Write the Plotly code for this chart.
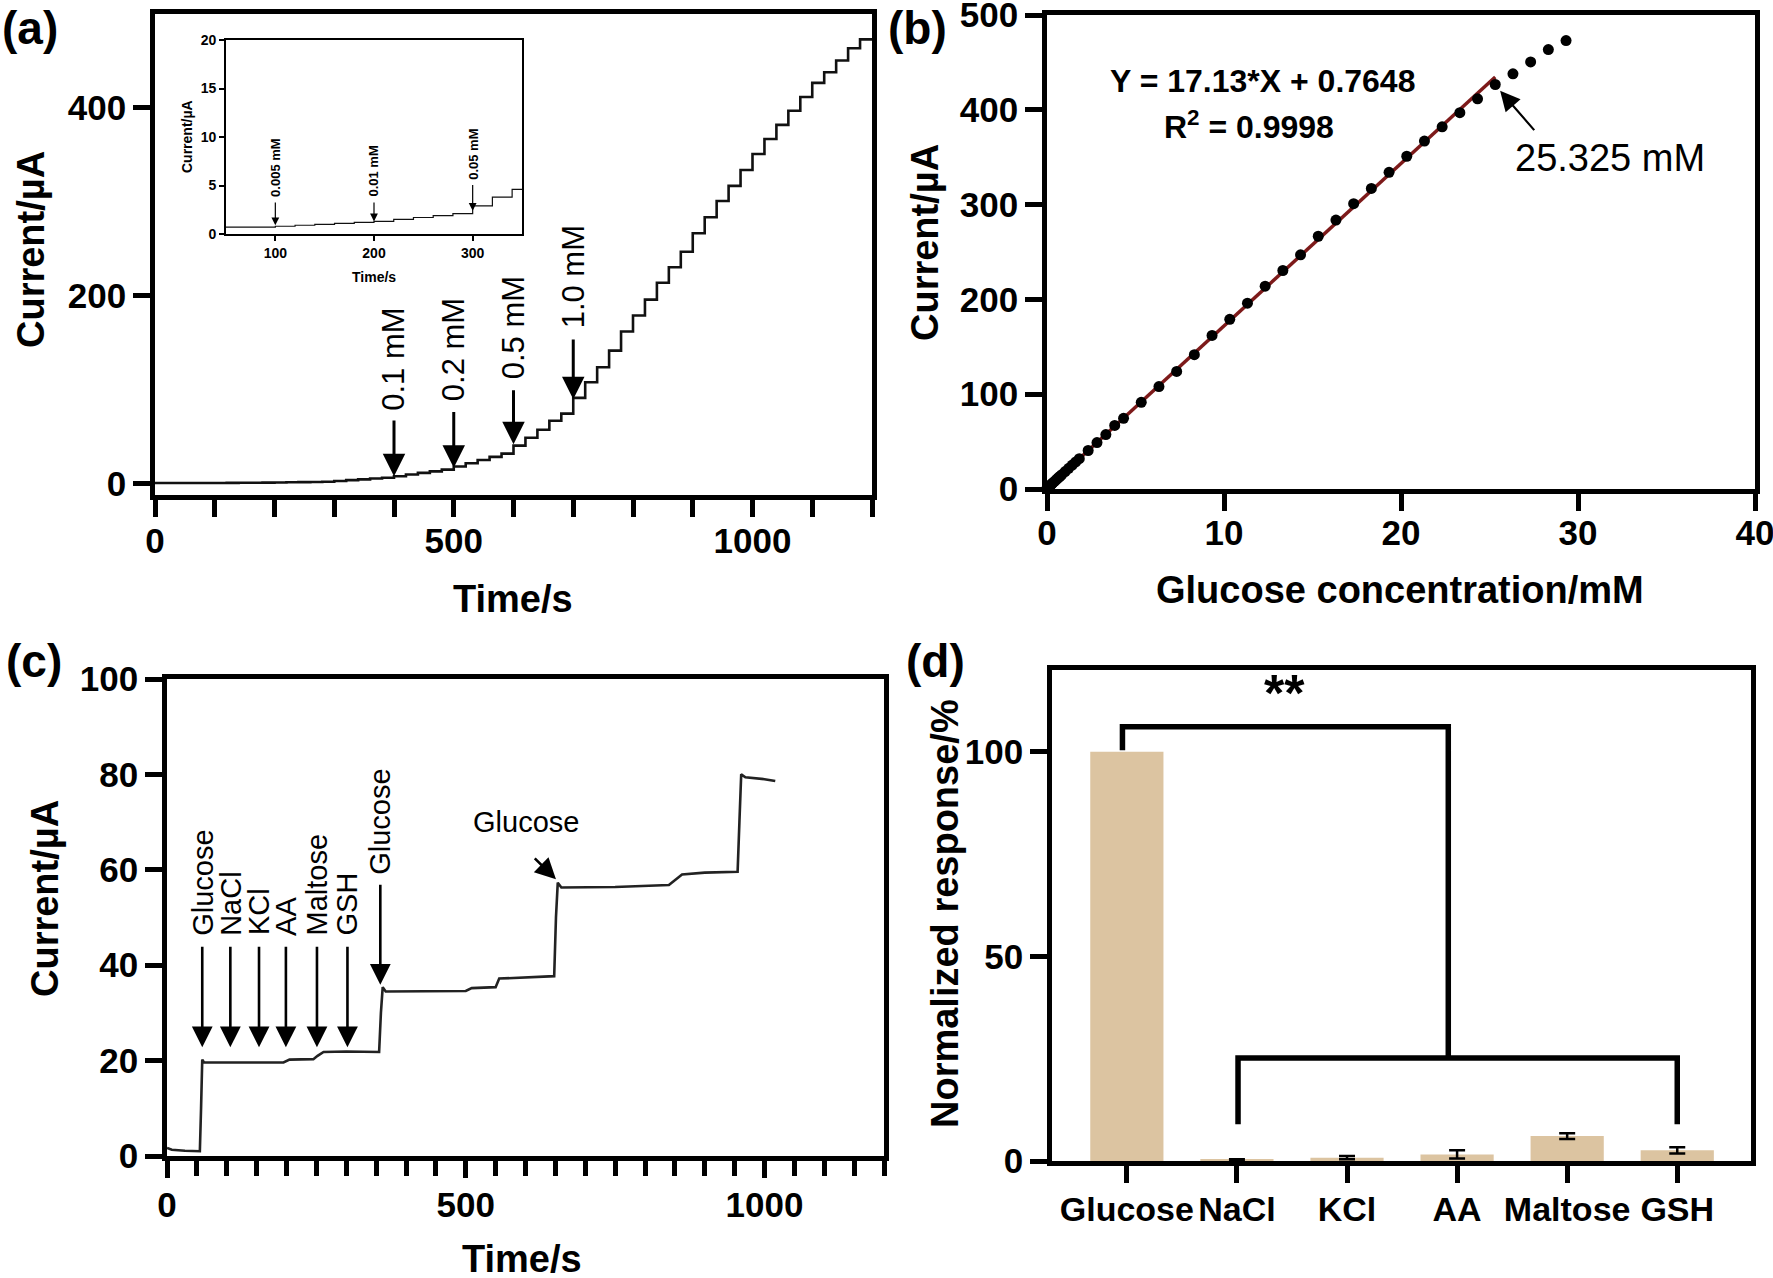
import plotly.graph_objects as go

W, H = 1773, 1278
FONT = "Liberation Sans, Arial, Helvetica, sans-serif"


def fx(p):
    return p / W


def fy(p):
    return 1 - p / H


# ------------------------------------------------------------------ data
# (a)/(b) successive glucose additions (time of addition, cumulative conc., current level)
addition_times = [100, 120, 140, 160, 180, 200, 220, 240, 260, 280,
                  300, 320, 340, 360, 380, 400, 420, 440, 460, 480,
                  500, 520, 540, 560, 580, 600, 620, 640, 660, 680,
                  700, 720, 740, 760, 780, 800, 820, 840, 860, 880,
                  900, 920, 940, 960, 980, 1000, 1020, 1040, 1060, 1080,
                  1100, 1120, 1140, 1160, 1180]
glucose_conc_mM = [0.005, 0.01, 0.015, 0.02, 0.025, 0.035, 0.045, 0.055, 0.065, 0.075,
                   0.125, 0.175, 0.225, 0.275, 0.325, 0.425, 0.525, 0.625, 0.725, 0.825,
                   1.025, 1.225, 1.425, 1.625, 1.825, 2.325, 2.825, 3.325, 3.825, 4.325,
                   5.325, 6.325, 7.325, 8.325, 9.325, 10.325, 11.325, 12.325, 13.325, 14.325,
                   15.325, 16.325, 17.325, 18.325, 19.325, 20.325, 21.325, 22.325, 23.325, 24.325,
                   25.325, 26.325, 27.325, 28.325, 29.325]
current_uA = [0.8, 0.9, 1.0, 1.1, 1.2, 1.3, 1.5, 1.7, 1.9, 2.1,
              2.9, 3.8, 4.6, 5.5, 6.4, 8.0, 9.8, 11.6, 13.2, 15.0,
              18.4, 21.8, 25.2, 28.6, 32.0, 40.6, 49.0, 57.4, 67.0, 74.6,
              91.4, 108.0, 124.0, 141.7, 162.0, 179.0, 196.0, 214.0, 230.5, 247.0,
              266.6, 283.7, 301.0, 317.0, 334.0, 351.0, 367.0, 382.0, 397.0, 411.6,
              426.7, 438.0, 450.5, 463.5, 473.0]
baseline_uA = 0.7
record_end_s = 1200

fit_conc = [0, 25.325]
fit_current = [0.7648, 434.6]

# (a) arrow annotations: time, tip current, tail current, label bottom
a_arrow_labels = ["0.1 mM", "0.2 mM", "0.5 mM", "1.0 mM"]
a_arrow_times = [400, 500, 600, 700]
a_arrow_tip = [8, 17, 42, 90]
a_arrow_tail = [69, 78, 101, 155]
a_label_base = [75, 86, 109, 163]

inset_labels = ["0.005 mM", "0.01 mM", "0.05 mM"]
inset_times = [100, 200, 300]
inset_tip = [0.9, 1.3, 2.4]
inset_tail = [3.4, 3.4, 5.2]
inset_label_base = [3.6, 3.6, 5.4]

# (c) interference test trace (time, current)
c_time_s = [0, 8, 30, 55, 57, 59, 62, 100, 150, 195, 205, 245, 252, 262, 300, 355,
            358, 361, 366, 420, 500, 510, 550, 556, 600, 648, 651, 654, 660, 750,
            840, 862, 900, 955, 958, 961, 968, 1000, 1018]
c_current_uA = [1.7, 1.3, 1.1, 1.0, 10.0, 20.2, 19.6, 19.6, 19.7, 19.6, 20.2, 20.3, 21.0, 21.8, 21.9, 21.8,
                30.0, 35.4, 34.5, 34.5, 34.6, 35.2, 35.4, 37.2, 37.5, 37.7, 50.0, 57.3, 56.3, 56.4,
                56.8, 59.0, 59.4, 59.6, 70.0, 80.0, 79.4, 79.0, 78.6]
c_arrow_labels = ["Glucose", "NaCl", "KCl", "AA", "Maltose", "GSH", "Glucose"]
c_arrow_times = [59, 106, 154, 199, 251, 302, 357]
c_arrow_tip = [22.8, 22.8, 22.8, 22.8, 22.8, 22.8, 35.9]
c_arrow_tail = [44.2, 44.2, 44.2, 44.2, 44.2, 44.2, 57.2]
c_label_base = [45.8, 45.8, 45.8, 45.8, 45.8, 45.8, 58.6]
c_third = dict(label="Glucose", text_t=600, text_y=70.0, tail_t=613, tail_y=62.7, tip_t=651, tip_y=58.0)

# (d) selectivity
d_species = ["Glucose", "NaCl", "KCl", "AA", "Maltose", "GSH"]
d_response = [100.0, 0.3, 0.8, 1.6, 6.1, 2.6]
d_error = [0.0, 0.1, 0.4, 1.0, 0.7, 0.75]

# ------------------------------------------------------------------ figure
fig = go.Figure()

# (a) main step trace
a_x = [0] + addition_times + [record_end_s]
a_y = [baseline_uA] + current_uA + [current_uA[-1]]
fig.add_trace(go.Scatter(x=a_x, y=a_y, mode="lines", line=dict(color="#111", width=2.6, shape="hv"),
                         xaxis="x", yaxis="y", hoverinfo="skip"))
# inset
fig.add_trace(go.Scatter(x=a_x, y=a_y, mode="lines", line=dict(color="#111", width=1.2, shape="hv"),
                         xaxis="x2", yaxis="y2", hoverinfo="skip"))
# (b)
fig.add_trace(go.Scatter(x=fit_conc, y=fit_current, mode="lines", line=dict(color="#7d1a1a", width=3.5),
                         xaxis="x3", yaxis="y3", cliponaxis=False))
fig.add_trace(go.Scatter(x=glucose_conc_mM, y=current_uA, mode="markers",
                         marker=dict(color="black", size=11), xaxis="x3", yaxis="y3", cliponaxis=False))
# (c)
fig.add_trace(go.Scatter(x=c_time_s, y=c_current_uA, mode="lines", line=dict(color="#222", width=2.6),
                         xaxis="x4", yaxis="y4"))
# (d)
d_pos = list(range(len(d_species)))
fig.add_trace(go.Bar(x=d_pos, y=d_response, width=0.665,
                     marker=dict(color="#dcc4a1", line=dict(width=0)),
                     xaxis="x5", yaxis="y5"))
fig.add_trace(go.Scatter(x=d_pos[1:], y=d_response[1:], mode="markers",
                         marker=dict(size=1, opacity=0),
                         error_y=dict(type="data", array=d_error[1:], color="black", thickness=2.5, width=8),
                         xaxis="x5", yaxis="y5", cliponaxis=False))

LW = 4.5
TICKFONT = dict(family=FONT, size=35, color="black", weight="bold")


def ax_style(**kw):
    base = dict(showline=True, linewidth=LW, linecolor="black", mirror=True, ticks="outside",
                ticklen=17, tickwidth=LW, tickcolor="black", showgrid=False, zeroline=False,
                tickfont=TICKFONT, automargin=False, ticklabeloverflow="allow", tickangle=0)
    base.update(kw)
    return base


fig.update_layout(
    template="none",
    width=W, height=H, margin=dict(l=0, r=0, t=0, b=0, pad=0), autosize=False,
    paper_bgcolor="white", plot_bgcolor="rgba(0,0,0,0)", showlegend=False,
    xaxis=ax_style(domain=[fx(155), fx(872)], range=[0, 1200], dtick=500, anchor="y",
                   ticklabelstandoff=-6,
                   minor=dict(dtick=100, ticks="outside", ticklen=17, tickwidth=LW, tickcolor="black")),
    yaxis=ax_style(domain=[fy(495), fy(14)], range=[-12, 500], tickvals=[0, 200, 400], anchor="x"),
    xaxis2=ax_style(domain=[fx(226), fx(522)], range=[50, 350], tickvals=[100, 200, 300], anchor="y2",
                    linewidth=1.6, tickwidth=1.6, ticklen=5,
                    tickfont=dict(family=FONT, size=14, color="black", weight="bold")),
    yaxis2=ax_style(domain=[fy(234), fy(40)], range=[0, 20], tickvals=[0, 5, 10, 15, 20], anchor="x2",
                    linewidth=1.6, tickwidth=1.6, ticklen=5,
                    tickfont=dict(family=FONT, size=14, color="black", weight="bold")),
    xaxis3=ax_style(domain=[fx(1047), fx(1755)], range=[0, 40], dtick=10, anchor="y3",
                    ticklabelstandoff=-8),
    yaxis3=ax_style(domain=[fy(489), fy(15)], range=[0, 500], dtick=100, anchor="x3"),
    xaxis4=ax_style(domain=[fx(167), fx(884)], range=[0, 1200], dtick=500, anchor="y4",
                    ticklabelstandoff=-3,
                    minor=dict(dtick=50, ticks="outside", ticklen=15, tickwidth=LW, tickcolor="black")),
    yaxis4=ax_style(domain=[fy(1156), fy(679)], range=[0, 100], dtick=20, anchor="x4"),
    xaxis5=ax_style(domain=[fx(1052), fx(1751)], range=[-0.68, 5.67],
                    tickvals=d_pos, ticktext=d_species, anchor="y5", ticklabelstandoff=-3,
                    tickfont=dict(family=FONT, size=34, color="black", weight="bold")),
    yaxis5=ax_style(domain=[fy(1161), fy(670)], range=[0, 120], tickvals=[0, 50, 100], anchor="x5"),
)

ann = []


def paper_text(text, x, y, size, bold=True, angle=0, xanchor="center", yanchor="middle"):
    ann.append(dict(text=text, x=fx(x), y=fy(y), xref="paper", yref="paper", showarrow=False,
                    textangle=angle, xanchor=xanchor, yanchor=yanchor,
                    font=dict(family=FONT, size=size, color="black", weight="bold" if bold else "normal")))


# panel letters
paper_text("(a)", 0, 0, 46, xanchor="left", yanchor="top")
paper_text("(b)", 886, 0, 46, xanchor="left", yanchor="top")
paper_text("(c)", 4, 633, 46, xanchor="left", yanchor="top")
paper_text("(d)", 904, 633, 46, xanchor="left", yanchor="top")
# axis titles
paper_text("Current/µA", 31, 250, 38, angle=-90)
paper_text("Time/s", 513, 599, 38)
paper_text("Current/µA", 187, 137, 14, angle=-90)
paper_text("Time/s", 374, 277, 14)
paper_text("Current/µA", 925, 243, 38, angle=-90)
paper_text("Glucose concentration/mM", 1400, 590, 38)
paper_text("Current/µA", 45, 899, 38, angle=-90)
paper_text("Time/s", 522, 1259, 38)
paper_text("Normalized response/%", 945, 914, 38, angle=-90)


def arrow(xr, yr, tip_x, tip_y, tail_x, tail_y, width, size, head=2):
    ann.append(dict(text="", x=tip_x, y=tip_y, ax=tail_x, ay=tail_y, xref=xr, yref=yr,
                    axref=xr, ayref=yr, showarrow=True, arrowhead=head, arrowwidth=width,
                    arrowsize=size, arrowcolor="black", standoff=0))


def data_text(xr, yr, text, x, y, size, bold=False, angle=-90, xanchor="center", yanchor="bottom"):
    ann.append(dict(text=text, x=x, y=y, xref=xr, yref=yr, showarrow=False, textangle=angle,
                    xanchor=xanchor, yanchor=yanchor,
                    font=dict(family=FONT, size=size, color="black", weight="bold" if bold else "normal")))


for lab, t, tip, tail, base in zip(a_arrow_labels, a_arrow_times, a_arrow_tip, a_arrow_tail, a_label_base):
    arrow("x", "y", t, tip, t, tail, 3, 1.5)
    data_text("x", "y", lab, t, base, 31)
for lab, t, tip, tail, base in zip(inset_labels, inset_times, inset_tip, inset_tail, inset_label_base):
    arrow("x2", "y2", t, tip, t, tail, 1.2, 1.3)
    data_text("x2", "y2", lab, t, base, 13, bold=True)
for lab, t, tip, tail, base in zip(c_arrow_labels, c_arrow_times, c_arrow_tip, c_arrow_tail, c_label_base):
    arrow("x4", "y4", t, tip, t, tail, 2.6, 1.6)
    data_text("x4", "y4", lab, t, base, 29)
arrow("x4", "y4", c_third["tip_t"], c_third["tip_y"], c_third["tail_t"], c_third["tail_y"], 2.6, 1.6)
data_text("x4", "y4", c_third["label"], c_third["text_t"], c_third["text_y"], 29, angle=0, yanchor="middle")

# (b) equation and limit label
data_text("x3", "y3", "Y = 17.13*X + 0.7648", 12.2, 430, 32, bold=True, angle=0, yanchor="middle")
data_text("x3", "y3", "R<sup>2</sup> = 0.9998", 11.4, 384, 32, bold=True, angle=0, yanchor="middle")
arrow("x3", "y3", 25.6, 420, 27.6, 377, 2.2, 1.8)
data_text("x3", "y3", "25.325 mM", 31.8, 349, 38, angle=0, yanchor="middle")

# (d) significance
data_text("x5", "y5", "**", 1.43, 114.5, 52, bold=True, angle=0, yanchor="middle")
fig.update_layout(annotations=ann)

fig.add_shape(type="path", path="M -0.04,100.4 L -0.04,106.1 L 2.92,106.1 L 2.92,25.2",
              xref="x5", yref="y5", line=dict(color="black", width=5.5))
fig.add_shape(type="path", path="M 1.01,9.0 L 1.01,25.2 L 5.0,25.2 L 5.0,9.0",
              xref="x5", yref="y5", line=dict(color="black", width=5.5))

fig.write_html("out.html", config={"displayModeBar": False},
               post_script="document.body.style.margin='0px';")
